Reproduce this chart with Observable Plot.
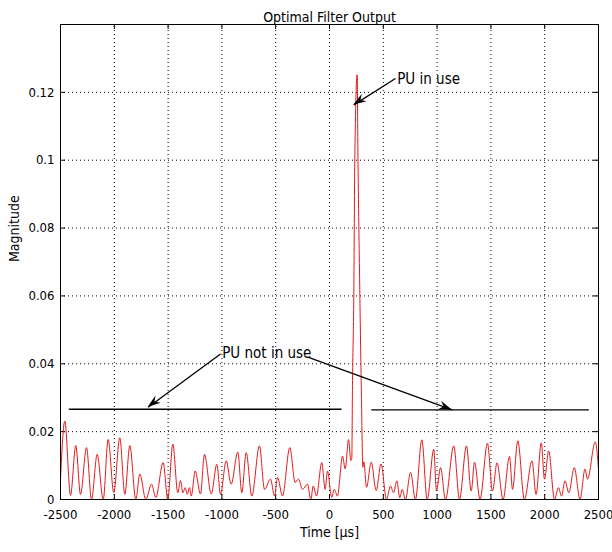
<!DOCTYPE html>
<html>
<head>
<meta charset="utf-8">
<script src="https://cdn.jsdelivr.net/npm/d3@7"></script>
<script src="https://cdn.jsdelivr.net/npm/@observablehq/plot@0.6"></script>
<style>
  html, body { margin: 0; padding: 0; background: #fff; }
  #chart svg { display: block; }
</style>
</head>
<body>
<div id="chart"></div>
<script>
// ---- data ----
const times = [-2500,-2460,-2407,-2358,-2314,-2258,-2212,-2159,-2103,-2057,-2005,-1949,-1902,-1856,-1800,-1763,-1707,-1654,-1614,-1546,-1503,-1456,-1410,-1385,-1363,-1341,-1322,-1301,-1285,-1248,-1199,-1162,-1099,-1047,-1013,-960,-914,-852,-815,-774,-722,-651,-604,-548,-511,-483,-437,-369,-319,-288,-251,-204,-174,-151,-121,-72,-40,-19,21,44,74,121,146,177,198,207,214,226,235,257,265,282,297,310,319,344,388,434,479,530,567,595,626,653,676,706,753,799,858,908,969,994,1032,1078,1155,1208,1273,1317,1348,1399,1468,1515,1557,1613,1673,1701,1750,1811,1882,1920,1968,1998,2037,2091,2128,2156,2189,2224,2275,2328,2375,2398,2470,2500];
const mags = [0.006,0.0231,0.0012,0.0159,0.0015,0.0153,0.0,0.0133,0.0,0.0177,0.002,0.0182,0.0015,0.0159,0.0,0.0075,0.0,0.0045,0.0006,0.0109,0.0,0.0163,0.002,0.0056,0.002,0.0035,0.0015,0.0035,0.001,0.0084,0.0016,0.0133,0.0016,0.0104,0.0015,0.0114,0.0045,0.014,0.002,0.0138,0.001,0.0158,0.003,0.006,0.001,0.0065,0.001,0.0153,0.005,0.006,0.003,0.0045,0.0,0.004,0.001,0.0109,0.003,0.0084,0.0006,0.003,0.001,0.0128,0.009,0.0177,0.0115,0.012,0.035,0.0606,0.0997,0.1252,0.0997,0.0606,0.03,0.0095,0.0111,0.0036,0.011,0.0026,0.0105,0.0,0.004,0.002,0.0055,0.0005,0.003,0.0,0.008,0.0,0.0176,0.0,0.0148,0.0025,0.0094,0.0,0.0158,0.0,0.0158,0.0025,0.011,0.0,0.0166,0.0025,0.0108,0.0,0.0127,0.003,0.0173,0.0,0.0114,0.0015,0.0167,0.006,0.0143,0.0,0.0035,0.001,0.0055,0.002,0.0094,0.0,0.009,0.006,0.017,0.009];

const xTicks = [-2500,-2000,-1500,-1000,-500,0,500,1000,1500,2000,2500];
const yTicks = [0,0.02,0.04,0.06,0.08,0.1,0.12];
const xDomain = [-2500, 2500];
const yDomain = [0, 0.14];

const titleText = "Optimal Filter Output";
const xLabel = "Time [µs]";
const yLabel = "Magnitude";

// reference levels ("PU not in use" lines)
const levelSegments = [
  {x1: -2423, x2: 112, y: 0.0266},
  {x1: 388, x2: 2410, y: 0.0264}
];
// annotation texts
const notes = [
  {label: "PU in use", x: 629, y: 0.1240},
  {label: "PU not in use", x: -997, y: 0.0430}
];
// annotation arrows: start -> tip
const arrows = [
  {x1: 613, y1: 0.1241, x2: 226, y2: 0.1163},
  {x1: -1013, y1: 0.0429, x2: -1685, y2: 0.0272},
  {x1: -195, y1: 0.0419, x2: 1140, y2: 0.0264}
];

const rows = times.map((t, i) => ({t, m: mags[i]}));
const font = "'DejaVu Sans Condensed', 'Liberation Sans Narrow', sans-serif";

const tickLenX = 5 * (xDomain[1] - xDomain[0]) / 538;
const tickLenY = 5 * (yDomain[1] - yDomain[0]) / 475;

// filled arrowheads drawn through Plot's own scales
function arrowHeads(index, scales) {
  const g = d3.create("svg:g");
  for (const a of arrows) {
    const sx = scales.x(a.x1), sy = scales.y(a.y1);
    const tx = scales.x(a.x2), ty = scales.y(a.y2);
    const dx = tx - sx, dy = ty - sy, len = Math.hypot(dx, dy);
    const ux = dx / len, uy = dy / len, nx = -uy, ny = ux;
    const L = 13, W = 9;
    const pts = [
      [tx, ty],
      [tx - L * ux + W / 2 * nx, ty - L * uy + W / 2 * ny],
      [tx - 0.65 * L * ux, ty - 0.65 * L * uy],
      [tx - L * ux - W / 2 * nx, ty - L * uy - W / 2 * ny]
    ];
    g.append("path").attr("d", "M" + pts.map(p => p.join(",")).join("L") + "Z").attr("fill", "#000");
  }
  return g.node();
}

const chart = Plot.plot({
  width: 612,
  height: 552,
  marginLeft: 60,
  marginRight: 14,
  marginTop: 24,
  marginBottom: 53,
  style: {fontFamily: font, fontSize: "14px", color: "#000", background: "#fff"},
  x: {domain: xDomain, ticks: xTicks, label: null},
  y: {domain: yDomain, ticks: yTicks, label: null},
  marks: [
    // dotted grid
    Plot.ruleX(xTicks.slice(1, -1), {y1: yDomain[0], y2: yDomain[1], stroke: "#000", strokeWidth: 1, strokeDasharray: "1,3"}),
    Plot.ruleY(yTicks.slice(1), {x1: xDomain[0], x2: xDomain[1], stroke: "#000", strokeWidth: 1, strokeDasharray: "1,3"}),
    // inward ticks on all four sides
    Plot.ruleX(xTicks, {y1: 0, y2: tickLenY, stroke: "#000"}),
    Plot.ruleX(xTicks, {y1: yDomain[1] - tickLenY, y2: yDomain[1], stroke: "#000"}),
    Plot.ruleY(yTicks, {x1: xDomain[0], x2: xDomain[0] + tickLenX, stroke: "#000"}),
    Plot.ruleY(yTicks, {x1: xDomain[1] - tickLenX, x2: xDomain[1], stroke: "#000"}),
    // signal
    Plot.line(rows, {x: "t", y: "m", stroke: "#e31a1c", strokeWidth: 1, curve: "monotone-x"}),
    // PU not in use level lines
    Plot.link(levelSegments, {x1: "x1", x2: "x2", y1: "y", y2: "y", stroke: "#000", strokeWidth: 1.3}),
    // arrows
    Plot.link(arrows, {x1: "x1", y1: "y1", x2: "x2", y2: "y2", stroke: "#000", strokeWidth: 1.3}),
    arrowHeads,
    Plot.text(notes, {x: "x", y: "y", text: "label", textAnchor: "start", fontSize: 15, fill: "#000"}),
    // frame
    Plot.frame({stroke: "#000", strokeWidth: 1}),
    // axes
    Plot.axisX({ticks: xTicks, tickSize: 0, tickPadding: 10, fontSize: 13, tickFormat: d => String(d), label: null}),
    Plot.axisY({ticks: yTicks, tickSize: 0, tickPadding: 6, fontSize: 13, tickFormat: d => d === 0 ? "0" : String(+d.toFixed(2)), label: null}),
    // titles
    Plot.text([titleText], {frameAnchor: "top", dy: -12, fontSize: 14, fill: "#000"}),
    Plot.text([xLabel], {frameAnchor: "bottom", dy: 37, fontSize: 14, fill: "#000"}),
    Plot.text([yLabel], {frameAnchor: "left", dx: -46, rotate: -90, fontSize: 14, fill: "#000"})
  ]
});
document.getElementById("chart").appendChild(chart);
</script>
</body>
</html>
